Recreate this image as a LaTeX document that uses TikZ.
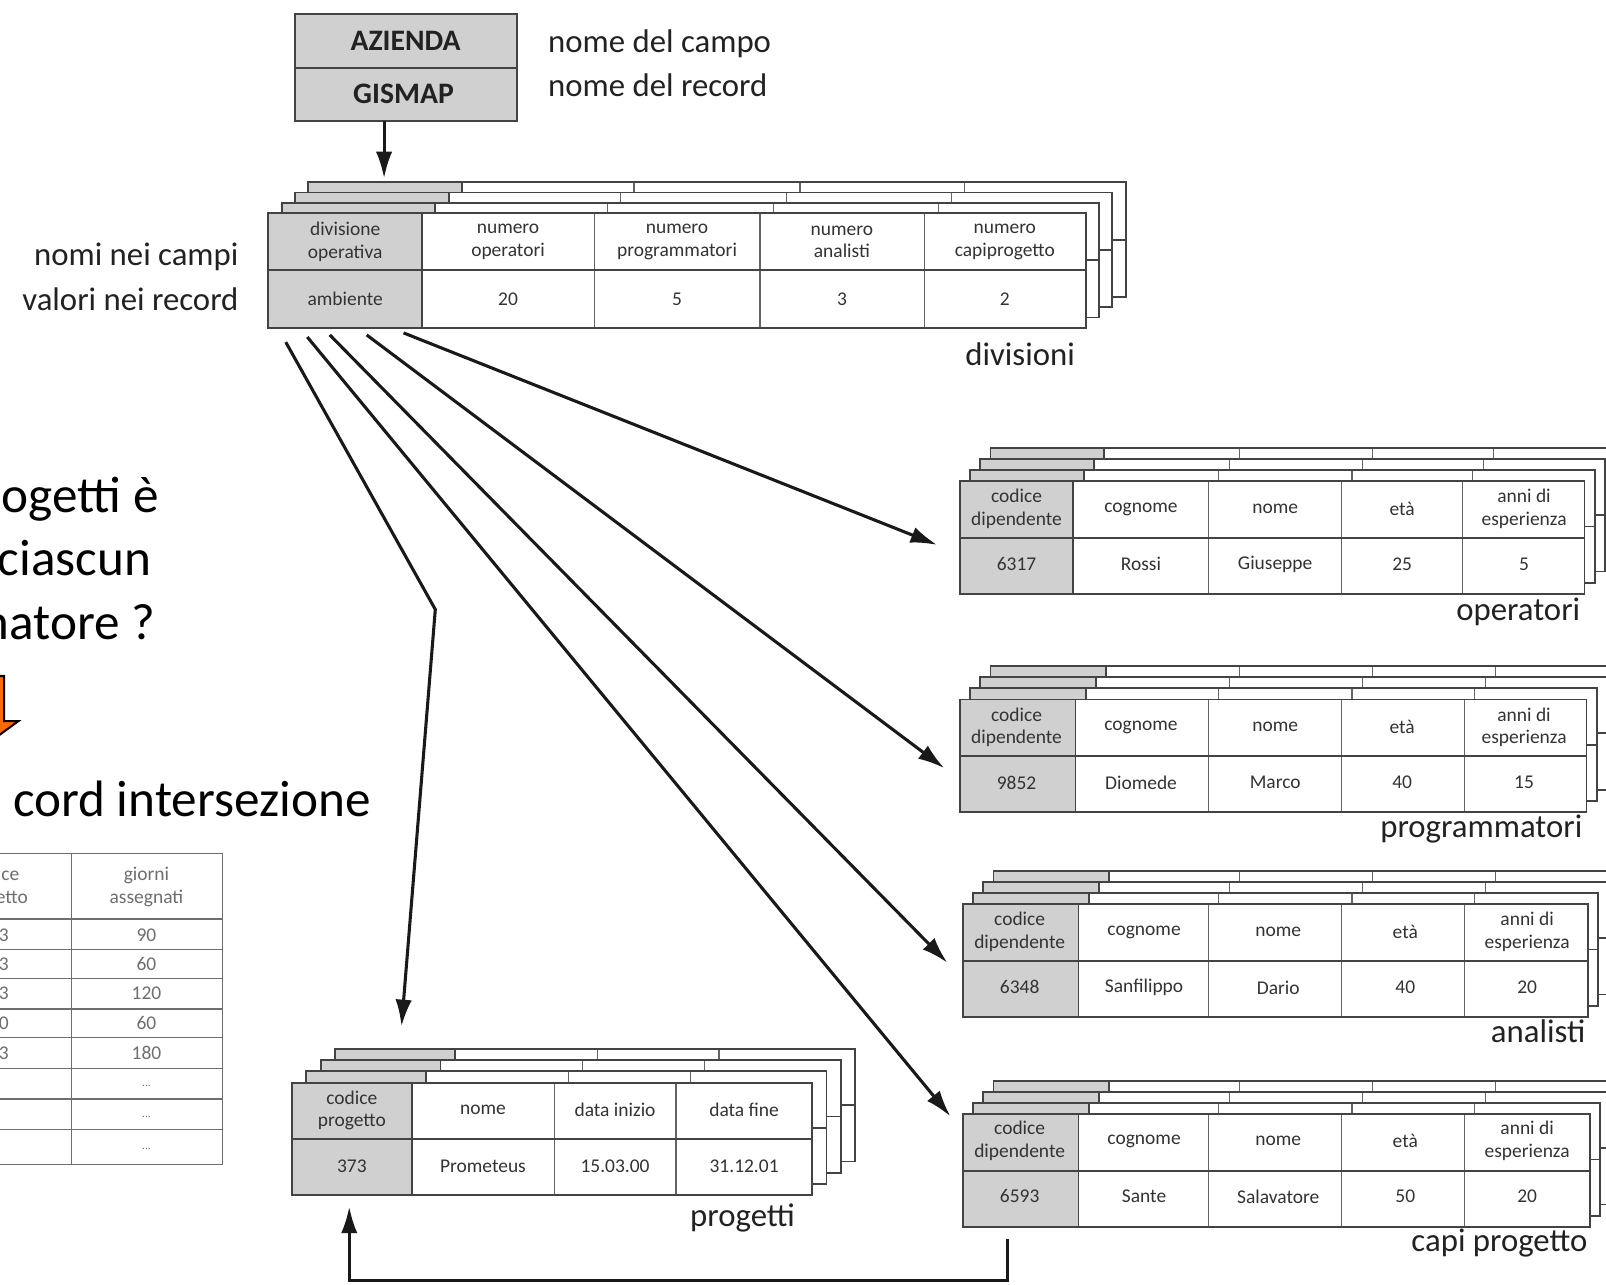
\documentclass[tikz,border=0pt]{standalone}
\usepackage{fontspec}
\setmainfont{Carlito}
\usetikzlibrary{arrows.meta}

\definecolor{keygray}{HTML}{D0D0D0}
\definecolor{inkdark}{HTML}{222222}
\definecolor{celltext}{HTML}{333333}
\definecolor{fadedink}{HTML}{6E6E6E}
\definecolor{arroworange}{HTML}{FF6A00}

\tikzset{
  sheetframe/.style={draw=inkdark!85, line width=1.8pt},
  coldiv/.style={draw=inkdark!70, line width=1.1pt},
  middiv/.style={draw=inkdark!85, line width=1.8pt},
  celltxt/.style={font=\fontsize{19}{22}\selectfont, text=celltext, align=center, inner sep=0pt},
  biglabel/.style={font=\fontsize{32}{36}\selectfont, text=inkdark, inner sep=0pt},
  overlaytxt/.style={font=\fontsize{50}{60}\selectfont, text=black, inner sep=0pt},
  fadedtxt/.style={font=\fontsize{19}{22}\selectfont, text=fadedink, align=center, inner sep=0pt},
  fadedline/.style={draw=fadedink, line width=1.2pt},
  link/.style={draw=black!90, line width=3pt, line join=miter, -{Latex[length=26pt,width=16pt]}},
}

% one record sheet: left x, top y, width, height, key-column width, column offsets
\newcommand{\recsheet}[6]{%
  \fill[white] (#1,#2) rectangle ++(#3,#4);
  \fill[keygray] (#1,#2) rectangle ++(#5,#4);
  \foreach \colx in {#6} {\draw[coldiv] ({#1+\colx},#2) -- ++(0,#4);}
  \draw[sheetframe] ({#1+#5},#2) -- ++(0,#4);
  \draw[middiv] (#1,{#2+#4/2}) -- ++(#3,0);
  \draw[sheetframe] (#1,#2) rectangle ++(#3,#4);
}

% cell texts of an employee record: prefix, left x, header y, value y, values
\newcommand{\empcells}[9]{%
  \node[celltxt] (#1-h1) at (#2+55.5,#3) {codice\\dipendente};
  \node[celltxt] (#1-h2) at (#2+177,#3) {cognome};
  \node[celltxt] (#1-h3) at (#2+308,#3) {nome};
  \node[celltxt] (#1-h4) at (#2+432,#3) {età};
  \node[celltxt] (#1-h5) at (#2+551,#3) {anni di\\esperienza};
  \node[celltxt] (#1-v1) at (#2+55.5,#4) {#5};
  \node[celltxt] (#1-v2) at (#2+177,#4) {#6};
  \node[celltxt] (#1-v3) at (#2+308,#4) {#7};
  \node[celltxt] (#1-v4) at (#2+432,#4) {#8};
  \node[celltxt] (#1-v5) at (#2+551,#4) {#9};
}

\begin{document}
\begin{tikzpicture}[x=1pt,y=-1pt]
\useasboundingbox (0,0) rectangle (1568,1254);
\clip (0,0) rectangle (1568,1254);
\fill[white] (0,0) rectangle (1568,1254);

% ---------- record type AZIENDA / GISMAP ----------
\fill[keygray] (288,14) rectangle (505,118);
\draw[sheetframe] (288,14) rectangle (505,118);
\draw[middiv] (288,66) -- (505,66);
\node[font=\fontsize{29}{34}\selectfont\bfseries, text=inkdark] (azienda) at (396,40) {AZIENDA};
\node[font=\fontsize{29}{34}\selectfont\bfseries, text=inkdark] (gismap) at (394,92) {GISMAP};
\node[biglabel, anchor=base west] (lblcampo) at (535,51) {nome del campo};
\node[biglabel, anchor=base west] (lblrecord) at (535,94) {nome del record};
\coordinate (gismap-out) at (375,118);

% ---------- divisioni ----------
\foreach \k in {3,2,1} {\recsheet{262+13*\k}{208-10*\k}{798}{112}{150}{150,318,480,641}}
\recsheet{262}{208}{798}{112}{150}{150,318,480,641}
\coordinate (div-in) at (375,174);
\node[celltxt] (div-h1) at (337,236) {divisione\\operativa};
\node[celltxt] (div-h2) at (496,236) {numero\\operatori};
\node[celltxt] (div-h3) at (661,236) {numero\\programmatori};
\node[celltxt] (div-h4) at (822,236) {numero\\analisti};
\node[celltxt] (div-h5) at (981,236) {numero\\capiprogetto};
\node[celltxt] (div-v1) at (337,292) {ambiente};
\node[celltxt] (div-v2) at (496,292) {20};
\node[celltxt] (div-v3) at (661,292) {5};
\node[celltxt] (div-v4) at (822,292) {3};
\node[celltxt] (div-v5) at (981,292) {2};
\node[biglabel, anchor=base] (lbldiv) at (996,357) {divisioni};
\node[biglabel, anchor=base east] (lblnomi) at (233,259) {nomi nei campi};
\node[biglabel, anchor=base east] (lblvalori) at (233,303) {valori nei record};

% ---------- operatori ----------
\foreach \k in {3,2,1} {\recsheet{937+10*\k}{470-11*\k}{610}{110}{111}{243,373,491}}
\recsheet{937}{470}{610}{110}{111}{243,373,491}
\empcells{op}{937}{497}{551}{6317}{Rossi}{Giuseppe}{25}{5}
\node[biglabel, anchor=base east] (lblop) at (1543,606) {operatori};

% ---------- programmatori ----------
\foreach \k in {3,2,1} {\recsheet{937+10*\k}{683-11*\k}{612}{110}{113}{243,373,493}}
\recsheet{937}{683}{612}{110}{113}{243,373,493}
\empcells{pr}{937}{710}{764}{9852}{Diomede}{Marco}{40}{15}
\node[biglabel, anchor=base east] (lblpr) at (1545,818) {programmatori};

% ---------- analisti ----------
\foreach \k in {3,2,1} {\recsheet{940+10*\k}{883-11*\k}{610}{110}{113}{240,370,490}}
\recsheet{940}{883}{610}{110}{113}{240,370,490}
\empcells{an}{940}{910}{964}{6348}{Sanfilippo}{Dario}{40}{20}
\node[biglabel, anchor=base east] (lblan) at (1548,1018) {analisti};

% ---------- capi progetto ----------
\foreach \k in {3,2,1} {\recsheet{940+10*\k}{1088-11*\k}{612}{110}{113}{240,370,490}}
\recsheet{940}{1088}{612}{110}{113}{240,370,490}
\empcells{cp}{940}{1114}{1168}{6593}{Sante}{Salavatore}{50}{20}
\node[biglabel, anchor=base east] (lblcp) at (1550,1222) {capi progetto};

% ---------- progetti ----------
\foreach \k in {3,2,1} {\recsheet{285+14*\k}{1057-11*\k}{508}{110}{117}{256,375}}
\recsheet{285}{1057}{508}{110}{117}{256,375}
\node[celltxt] (pj-h1) at (343.5,1084) {codice\\progetto};
\node[celltxt] (pj-h2) at (471.5,1084) {nome};
\node[celltxt] (pj-h3) at (600.5,1084) {data inizio};
\node[celltxt] (pj-h4) at (726.5,1084) {data fine};
\node[celltxt] (pj-v1) at (343.5,1139) {373};
\node[celltxt] (pj-v2) at (471.5,1139) {Prometeus};
\node[celltxt] (pj-v3) at (600.5,1139) {15.03.00};
\node[celltxt] (pj-v4) at (726.5,1139) {31.12.01};
\node[biglabel, anchor=base] (lblpj) at (725,1197) {progetti};

% ---------- links ----------
\coordinate (s1) at (279,334);
\coordinate (s2) at (300,329);
\coordinate (s3) at (322,327);
\coordinate (s4) at (358,327);
\coordinate (s5) at (394,325);
\coordinate (bend1) at (425,595);
\coordinate (t-pj) at (392,1002);
\coordinate (t-cp) at (928,1090);
\coordinate (t-an) at (925,940);
\coordinate (t-pr) at (922,750);
\coordinate (t-op) at (915,532);
\coordinate (cp-out) at (984,1210);
\coordinate (ret-r) at (984,1250);
\coordinate (ret-l) at (341,1250);
\coordinate (t-pjb) at (341,1178);

\draw[link] (gismap-out) -- (div-in);
\draw[link] (s1) -- (bend1) -- (t-pj);
\draw[link] (s2) -- (t-cp);
\draw[link] (s3) -- (t-an);
\draw[link] (s4) -- (t-pr);
\draw[link] (s5) -- (t-op);
\draw[link] (cp-out) -- (ret-r) -- (ret-l) -- (t-pjb);

% ---------- side text ----------
\node[overlaytxt, anchor=base east] (q1) at (155,500) {ogetti è};
\node[overlaytxt, anchor=base east] (q2) at (148,562) {ciascun};
\node[overlaytxt, anchor=base east] (q3) at (152,624) {matore ?};
\draw[black, line width=2pt, line join=miter, fill=arroworange]
  (-20,660) -- (4,660) -- (4,704) -- (18,704) -- (-8,723) -- (-34,704) -- (-20,704) -- cycle;
\node[overlaytxt, anchor=base east] (q4) at (362,797) {cord intersezione};

% ---------- intersection records ----------
\draw[fadedline] (-60,833) rectangle (217,1137);
\draw[fadedline] (70,833) -- (70,1137);
\draw[fadedline, line width=2pt] (-60,897) -- (217,897);
\foreach \yy in {927,955,985,1013,1043,1073,1103} {\draw[fadedline] (-60,\yy) -- (217,\yy);}
\node[fadedtxt] (ix-h1) at (-6,866) {codice\\progetto};
\node[fadedtxt] (ix-h2) at (143,866) {giorni\\assegnati};
\node[fadedtxt] (ix-a1) at (-6,913) {373};
\node[fadedtxt] (ix-a2) at (-6,941) {373};
\node[fadedtxt] (ix-a3) at (-6,970) {373};
\node[fadedtxt] (ix-a4) at (-6,999) {290};
\node[fadedtxt] (ix-a5) at (-6,1028) {373};
\node[fadedtxt] (ix-b1) at (143,913) {90};
\node[fadedtxt] (ix-b2) at (143,941) {60};
\node[fadedtxt] (ix-b3) at (143,970) {120};
\node[fadedtxt] (ix-b4) at (143,999) {60};
\node[fadedtxt] (ix-b5) at (143,1028) {180};
\node[fadedtxt, font=\fontsize{11}{12}\selectfont] (ix-b6) at (143,1060) {...};
\node[fadedtxt, font=\fontsize{11}{12}\selectfont] (ix-b7) at (143,1090) {...};
\node[fadedtxt, font=\fontsize{11}{12}\selectfont] (ix-b8) at (143,1122) {...};
\end{tikzpicture}
\end{document}
